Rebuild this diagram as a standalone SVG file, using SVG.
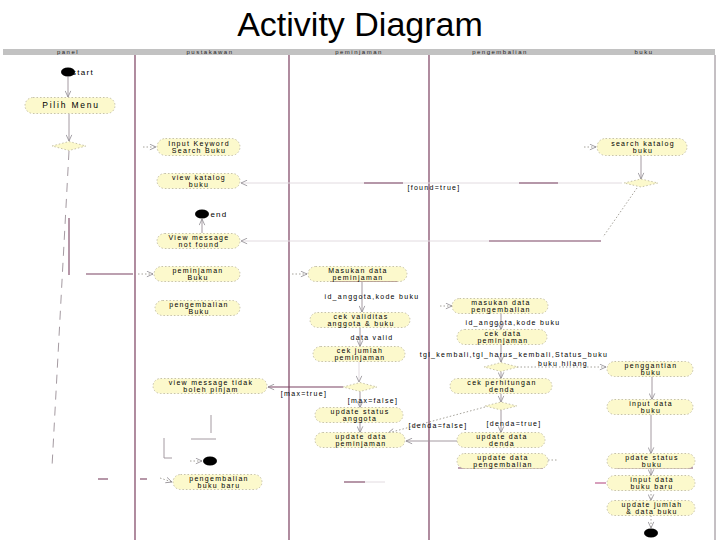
<svg xmlns="http://www.w3.org/2000/svg" width="720" height="540" viewBox="0 0 720 540">
<defs>
<style>
.title{font-family:"Liberation Sans",Arial,sans-serif;font-size:34px;fill:#000}
.hdr{font-family:"Liberation Sans",Arial,sans-serif;font-size:6px;letter-spacing:1.5px;fill:#222;text-anchor:middle}
.act{fill:#fcf9cc;stroke:#b9b49a;stroke-width:0.8;stroke-dasharray:1.5 2}
.dia{fill:#fcf9cc;stroke:#b9b49a;stroke-width:0.8;stroke-dasharray:1.5 2}
.t{font-family:"Liberation Sans",Arial,sans-serif;font-size:7px;letter-spacing:1.3px;fill:#000;text-anchor:middle}
.lbl{font-family:"Liberation Sans",Arial,sans-serif;font-size:7px;letter-spacing:1.3px;fill:#000;text-anchor:middle}
.lane{stroke:#7b3f5e;stroke-width:1.2}
.c{fill:none;stroke:#9a8f96;stroke-width:0.9}
.cd{fill:none;stroke:#7a4362;stroke-width:1.1}
.cf{fill:none;stroke:#e2dbe0;stroke-width:1}
.dot{fill:none;stroke:#8e8a80;stroke-width:0.8;stroke-dasharray:1.5 2}
.dash{fill:none;stroke:#9a8e96;stroke-width:0.9;stroke-dasharray:9 7}
</style>
<marker id="ah" viewBox="0 0 8 8" refX="7.5" refY="4" markerWidth="7" markerHeight="7" orient="auto" markerUnits="userSpaceOnUse">
<path d="M0.5,0.8 L7.5,4 L0.5,7.2" fill="none" stroke="#8e8a90" stroke-width="0.9"/>
</marker>
</defs>
<rect x="0" y="0" width="720" height="540" fill="#ffffff"/>
<text class="title" x="360" y="36" text-anchor="middle">Activity Diagram</text>

<g id="swimlanes">
<rect x="3" y="49" width="712" height="6" fill="#c2c2c2"/>
<text class="hdr" x="68" y="54.2">panel</text>
<text class="hdr" x="210" y="54.2">pustakawan</text>
<text class="hdr" x="359" y="54.2">peminjaman</text>
<text class="hdr" x="500" y="54.2">pengembalian</text>
<text class="hdr" x="644" y="54.2">buku</text>
<line class="lane" x1="135" y1="55" x2="135" y2="540"/>
<line class="lane" x1="289" y1="55" x2="289" y2="540"/>
<line class="lane" x1="429" y1="55" x2="429" y2="540"/>
<line x1="715" y1="55" x2="715" y2="540" stroke="#8a8088" stroke-width="1"/>
</g>

<g id="connectors">
<line class="c" x1="68" y1="77" x2="68" y2="97" marker-end="url(#ah)"/>
<line class="c" x1="69" y1="114" x2="69" y2="141" marker-end="url(#ah)"/>
<path class="dash" d="M69,151 L52,467"/>
<line class="cd" x1="69" y1="218" x2="69" y2="275" stroke="#8a6a7c"/>
<line class="cd" x1="86" y1="274" x2="133" y2="274"/>
<line class="dot" x1="138" y1="274" x2="153" y2="274" marker-end="url(#ah)"/>
<line class="dot" x1="143" y1="147" x2="156" y2="147" marker-end="url(#ah)"/>
<line class="dot" x1="584" y1="147" x2="596" y2="147" marker-end="url(#ah)"/>
<line class="c" x1="641" y1="156" x2="641" y2="179" marker-end="url(#ah)"/>
<line class="cf" x1="622" y1="183" x2="241" y2="183" marker-end="url(#ah)"/>
<line class="cd" x1="364" y1="183" x2="403" y2="183" stroke="#8c6a80"/>
<line class="cd" x1="519" y1="183" x2="558" y2="183" stroke="#8c6a80"/>
<text class="lbl" x="434" y="190">[found=true]</text>
<path class="dot" d="M637,188 L603,237"/>
<line class="cd" x1="489" y1="241" x2="601" y2="241"/>
<line class="cf" x1="489" y1="241" x2="241" y2="241" marker-end="url(#ah)"/>
<line class="c" x1="202" y1="233" x2="202" y2="219" marker-end="url(#ah)"/>
<line class="dot" x1="292" y1="274" x2="307" y2="274" marker-end="url(#ah)"/>
<line class="cd" x1="330" y1="281.5" x2="397" y2="281.5" stroke="#8c6a80"/>
<line class="c" x1="362" y1="282" x2="362" y2="312" marker-end="url(#ah)"/>
<text class="lbl" x="372" y="298.5">id_anggota,kode buku</text>
<line class="c" x1="360" y1="327.5" x2="360" y2="346.5" marker-end="url(#ah)"/>
<text class="lbl" x="372" y="339.5">data valid</text>
<line class="cf" x1="359" y1="362" x2="359" y2="382" marker-end="url(#ah)"/>
<line class="cd" x1="343" y1="387" x2="268" y2="387" marker-end="url(#ah)"/>
<text class="lbl" x="304" y="396">[max=true]</text>
<line class="c" x1="360" y1="391.5" x2="360" y2="407.5" marker-end="url(#ah)"/>
<text class="lbl" x="373" y="402.5">[max=false]</text>
<line class="c" x1="360" y1="422.5" x2="360" y2="432.5" marker-end="url(#ah)"/>
<line class="dot" x1="440" y1="306" x2="452" y2="306" marker-end="url(#ah)"/>
<line class="c" x1="501" y1="313.5" x2="501" y2="329.5" marker-end="url(#ah)"/>
<text class="lbl" x="513" y="324.5">id_anggota,kode buku</text>
<line class="c" x1="501" y1="344.5" x2="501" y2="362" marker-end="url(#ah)"/>
<text class="lbl" x="514" y="356.5">tgl_kembali,tgl_harus_kembali,Status_buku</text>
<line class="dot" x1="517" y1="367" x2="606" y2="367" marker-end="url(#ah)"/>
<text class="lbl" x="563" y="366">buku hilang</text>
<line class="c" x1="501" y1="371.5" x2="501" y2="378.5" marker-end="url(#ah)"/>
<line class="c" x1="501" y1="393.5" x2="501" y2="402" marker-end="url(#ah)"/>
<line class="c" x1="501" y1="410" x2="501" y2="432.5" marker-end="url(#ah)"/>
<text class="lbl" x="514" y="425.5">[denda=true]</text>
<line class="dot" x1="485" y1="407" x2="388" y2="433" marker-end="url(#ah)"/>
<text class="lbl" x="438" y="427.5">[denda=false]</text>
<line class="c" x1="457" y1="441" x2="406" y2="441" marker-end="url(#ah)"/>
<line class="cd" x1="458" y1="468" x2="543" y2="468"/>
<line class="dot" x1="548" y1="460" x2="557" y2="460"/>
<line class="c" x1="652" y1="376.5" x2="652" y2="399.5" marker-end="url(#ah)"/>
<line class="c" x1="651" y1="414.5" x2="651" y2="453.5" marker-end="url(#ah)"/>
<line class="cd" x1="616" y1="468" x2="693" y2="468"/>
<line class="c" x1="651" y1="468.5" x2="651" y2="475.5" marker-end="url(#ah)"/>
<line x1="595" y1="483" x2="606" y2="483" stroke="#b0407a" stroke-width="1"/>
<line class="dot" x1="651" y1="490.5" x2="651" y2="500.5" marker-end="url(#ah)"/>
<line class="dot" x1="651" y1="515.5" x2="651" y2="528" marker-end="url(#ah)"/>
<line class="c" x1="211" y1="415" x2="211" y2="433"/>
<line class="c" x1="191" y1="439" x2="216" y2="439"/>
<line class="c" x1="164" y1="438" x2="164" y2="458"/>
<line class="c" x1="164" y1="458" x2="172" y2="458"/>
<line class="dot" x1="190" y1="461" x2="202" y2="461" marker-end="url(#ah)"/>
<line class="cd" x1="344" y1="482" x2="365" y2="482"/>
<line class="cf" x1="365" y1="482" x2="385" y2="482"/>
<line class="cd" x1="98" y1="479" x2="108" y2="479"/>
<line class="cd" x1="140" y1="479" x2="147" y2="479"/>
<line class="dot" x1="160" y1="478" x2="172" y2="482" marker-end="url(#ah)"/>
</g>

<g id="start"><ellipse cx="68" cy="72" rx="7" ry="4.5" fill="#000"/><text class="lbl" x="83" y="74.5" text-anchor="start" style="font-size:8px">start</text></g>
<g id="pilih-menu"><rect class="act" x="25" y="97.5" width="90" height="16" rx="8"/><text class="t" x="71" y="108" style="font-size:8.5px;letter-spacing:1.8px">Pilih Menu</text></g>
<g id="decision-menu"><polygon class="dia" points="52,146 69,141.5 86,146 69,150.5"/></g>
<g id="input-keyword"><rect class="act" x="157" y="138.5" width="83" height="17" rx="8.5"/><text class="t" x="199" y="145.6">Input Keyword</text><text class="t" x="199" y="153.4">Search Buku</text></g>
<g id="search-katalog"><rect class="act" x="597" y="138.5" width="90" height="17" rx="8.5"/><text class="t" x="643" y="145.6">search katalog</text><text class="t" x="643" y="153.4">buku</text></g>
<g id="decision-found"><polygon class="dia" points="624,183 641,179 658,183 641,187"/></g>
<g id="view-katalog"><rect class="act" x="157" y="173.5" width="83" height="15" rx="7.5"/><text class="t" x="199" y="179.6">view katalog</text><text class="t" x="199" y="187.4">buku</text></g>
<g id="end-1"><ellipse cx="202" cy="214" rx="7" ry="4.5" fill="#000"/><text class="lbl" x="219" y="216.5" text-anchor="start" style="font-size:8px">end</text></g>
<g id="view-not-found"><rect class="act" x="157" y="233.5" width="83" height="15" rx="7.5"/><text class="t" x="199" y="239.6">View message</text><text class="t" x="199" y="247.4">not found</text></g>
<g id="peminjaman-buku"><rect class="act" x="154" y="266.5" width="86" height="15" rx="7.5"/><text class="t" x="198" y="272.6">peminjaman</text><text class="t" x="198" y="280.4">Buku</text></g>
<g id="masukan-peminjaman"><rect class="act" x="308" y="266.5" width="99" height="15" rx="7.5"/><text class="t" x="358" y="272.6">Masukan data</text><text class="t" x="358" y="280.4">peminjaman</text></g>
<g id="pengembalian-buku"><rect class="act" x="155" y="300.5" width="85" height="15" rx="7.5"/><text class="t" x="199" y="306.6">pengembalian</text><text class="t" x="199" y="314.4">Buku</text></g>
<g id="masukan-pengembalian"><rect class="act" x="452" y="298.5" width="96" height="15" rx="7.5"/><text class="t" x="501" y="304.6">masukan data</text><text class="t" x="501" y="312.4">pengembalian</text></g>
<g id="cek-validitas"><rect class="act" x="310" y="312.5" width="100" height="15" rx="7.5"/><text class="t" x="361" y="318.6">cek validitas</text><text class="t" x="361" y="326.4">anggota &amp; buku</text></g>
<g id="cek-data"><rect class="act" x="457" y="329.5" width="90" height="15" rx="7.5"/><text class="t" x="503" y="335.6">cek data</text><text class="t" x="503" y="343.4">peminjaman</text></g>
<g id="cek-jumlah"><rect class="act" x="313" y="346.5" width="92" height="15" rx="7.5"/><text class="t" x="360" y="352.6">cek jumlah</text><text class="t" x="360" y="360.4">peminjaman</text></g>
<g id="decision-hilang"><polygon class="dia" points="484,367 501,362.5 518,367 501,371.5"/></g>
<g id="penggantian-buku"><rect class="act" x="607" y="361.5" width="86" height="15" rx="7.5"/><text class="t" x="651" y="367.6">penggantian</text><text class="t" x="651" y="375.4">buku</text></g>
<g id="view-tidak-boleh"><rect class="act" x="153" y="378.5" width="114" height="15" rx="7.5"/><text class="t" x="211" y="384.6">view message tidak</text><text class="t" x="211" y="392.4">boleh pinjam</text></g>
<g id="decision-max"><polygon class="dia" points="343,387 360,382.5 377,387 360,391.5"/></g>
<g id="cek-perhitungan"><rect class="act" x="450" y="378.5" width="102" height="15" rx="7.5"/><text class="t" x="502" y="384.6">cek perhitungan</text><text class="t" x="502" y="392.4">denda</text></g>
<g id="input-data-buku"><rect class="act" x="607" y="399.5" width="86" height="15" rx="7.5"/><text class="t" x="651" y="405.6">input data</text><text class="t" x="651" y="413.4">buku</text></g>
<g id="decision-denda"><polygon class="dia" points="485,406 501,402 517,406 501,410"/></g>
<g id="update-status-anggota"><rect class="act" x="315" y="407.5" width="88" height="15" rx="7.5"/><text class="t" x="360" y="413.6">update status</text><text class="t" x="360" y="421.4">anggota</text></g>
<g id="update-data-peminjaman"><rect class="act" x="315" y="432.5" width="90" height="15" rx="7.5"/><text class="t" x="361" y="438.6">update data</text><text class="t" x="361" y="446.4">peminjaman</text></g>
<g id="update-data-denda"><rect class="act" x="457" y="432.5" width="88" height="15" rx="7.5"/><text class="t" x="502" y="438.6">update data</text><text class="t" x="502" y="446.4">denda</text></g>
<g id="update-data-pengembalian"><rect class="act" x="457" y="453.5" width="91" height="15" rx="7.5"/><text class="t" x="503" y="459.6">update data</text><text class="t" x="503" y="467.4">pengembalian</text></g>
<g id="pdate-status-buku"><rect class="act" x="607" y="453.5" width="88" height="15" rx="7.5"/><text class="t" x="652" y="459.6">pdate status</text><text class="t" x="652" y="467.4">buku</text></g>
<g id="end-2"><ellipse cx="210" cy="461" rx="7" ry="4.5" fill="#000"/></g>
<g id="pengembalian-buku-baru"><rect class="act" x="173" y="474.5" width="89" height="15" rx="7.5"/><text class="t" x="219" y="480.6">pengembalian</text><text class="t" x="219" y="488.4">buku baru</text></g>
<g id="input-buku-baru"><rect class="act" x="607" y="475.5" width="88" height="15" rx="7.5"/><text class="t" x="652" y="481.6">input data</text><text class="t" x="652" y="489.4">buku baru</text></g>
<g id="update-jumlah"><rect class="act" x="607" y="500.5" width="88" height="15" rx="7.5"/><text class="t" x="652" y="506.6">update jumlah</text><text class="t" x="652" y="514.4">&amp; data buku</text></g>
<g id="end-3"><ellipse cx="651" cy="533" rx="7" ry="4.5" fill="#000"/></g>
</svg>
